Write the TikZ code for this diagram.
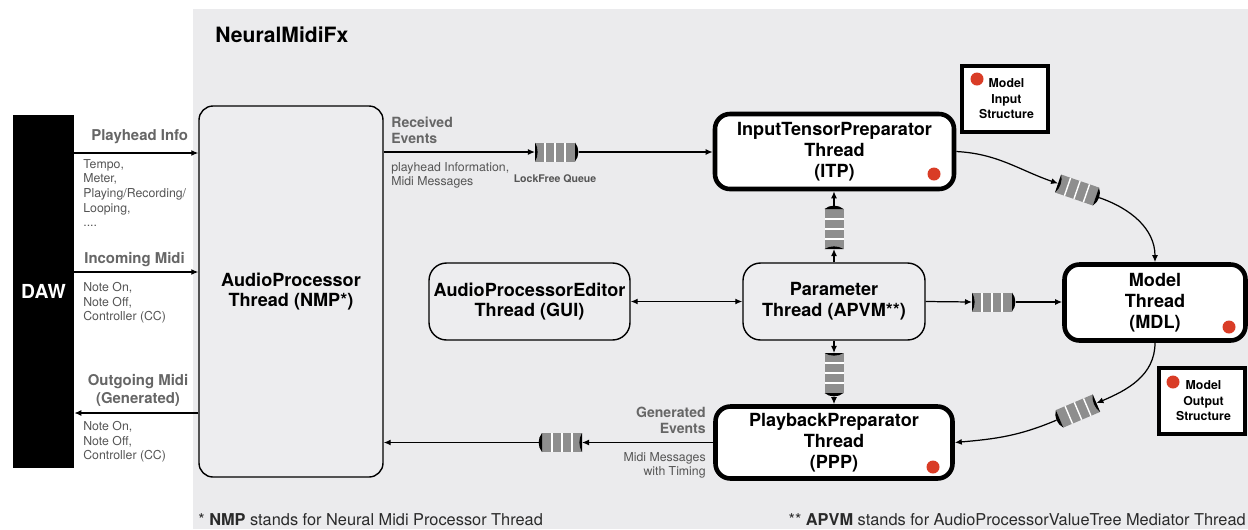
\documentclass[tikz,border=0pt]{standalone}
\usepackage{fontspec}
\setmainfont{TeX Gyre Heros}
\usetikzlibrary{arrows.meta}

% one drawing unit of the picture
\newdimen\pxu \pxu=0.02cm

\definecolor{canvas}{HTML}{EBEBED}
\definecolor{boxfill}{HTML}{EDEDEF}
\definecolor{cellgray}{HTML}{8E8E8E}
\definecolor{dotred}{HTML}{D93C26}
\definecolor{lblgray}{HTML}{666666}
\definecolor{txtgray}{HTML}{555555}
\definecolor{notegray}{HTML}{2A2A2A}

\newcommand\boxfont{\fontsize{10.3}{11.8}\selectfont\bfseries}
\newcommand\titlefont{\fontsize{12}{14}\selectfont\bfseries}
\newcommand\sidefont{\fontsize{8.5}{10.2}\selectfont\bfseries}
\newcommand\evfont{\fontsize{8}{9}\selectfont\bfseries}
\newcommand\smallfont{\fontsize{7}{8.3}\selectfont}
\newcommand\legendfont{\fontsize{7}{8.8}\selectfont\bfseries}
\newcommand\queuefont{\fontsize{6}{7}\selectfont\bfseries}
\newcommand\notefont{\fontsize{9.3}{11}\selectfont}

\begin{document}
\begin{tikzpicture}[x=0.02cm,y=-0.02cm,
  arr/.style={draw=black, line width=0.7pt, -{Latex[length=4pt,width=3.4pt]}},
  arrboth/.style={draw=black, line width=0.7pt, {Latex[length=4pt,width=3.4pt]}-{Latex[length=4pt,width=3.4pt]}},
  thinbox/.style={draw=black, line width=0.8pt, fill=boxfill, rounded corners=10pt, align=center, font=\boxfont, inner sep=0pt},
  thickbox/.style={draw=black, line width=2.6pt, fill=white, rounded corners=8.5pt, align=center, font=\boxfont, inner sep=0pt},
  legendbox/.style={draw=black, line width=2.2pt, fill=white, align=center, font=\legendfont, inner sep=0pt},
  reddot/.style={circle, fill=dotred, minimum size=13\pxu, inner sep=0pt},
  sidelbl/.style={text=lblgray, font=\sidefont, inner sep=0pt},
  evlbl/.style={text=lblgray, font=\evfont, inner sep=0pt},
  smalltxt/.style={text=txtgray, font=\smallfont, inner sep=0pt},
  queue/.pic={
    \fill[cellgray] (-20,-9.5) rectangle (20,9.5);
    \foreach \s in {-10,0,10}{\draw[white,line width=0.8pt] (\s,-9.5) -- (\s,9.5);}
    \fill[black] (-20,-9.5) .. controls (-16.5,-4) and (-16.5,4) .. (-20,9.5) -- cycle;
    \fill[black] (20,-9.5) .. controls (24.5,-4) and (24.5,4) .. (20,9.5) -- cycle;
    \coordinate (-in) at (-20,0);
    \coordinate (-out) at (23.5,0);
  }]

\useasboundingbox (0,0) rectangle (1248,529);
\fill[white] (0,0) rectangle (1248,529);
\fill[canvas] (193,9) rectangle (1248,529);

\node[anchor=base west, font=\titlefont, inner sep=0pt] (title) at (215,42) {NeuralMidiFx};

% host and plugin threads
\node[fill=black, text=white, font=\fontsize{11}{13}\selectfont\bfseries,
      minimum width=61\pxu, minimum height=353\pxu, inner sep=0pt] (daw) at (43.5,291.5) {DAW};
\node[thinbox, rounded corners=8pt, minimum width=184\pxu, minimum height=371\pxu] (ap) at (291,291.5)
  {AudioProcessor\\Thread (NMP*)};
\node[thickbox, minimum width=239\pxu, minimum height=75\pxu] (itp) at (834.5,151.5)
  {InputTensorPreparator\\Thread\\(ITP)};
\node[thickbox, minimum width=181\pxu, minimum height=76\pxu] (mdl) at (1155,302.5)
  {Model\\Thread\\(MDL)};
\node[thickbox, minimum width=237\pxu, minimum height=72\pxu] (ppp) at (834,442.5)
  {PlaybackPreparator\\Thread\\(PPP)};
\node[thinbox, minimum width=201\pxu, minimum height=77\pxu] (ed) at (529.5,301.5)
  {AudioProcessorEditor\\Thread (GUI)};
\node[thinbox, minimum width=182\pxu, minimum height=77\pxu] (par) at (834,301.5)
  {Parameter\\Thread (APVM**)};

% legend boxes
\node[legendbox, minimum width=86\pxu, minimum height=66\pxu] (mis) at (1005,99) {\hspace*{3\pxu}Model\\\hspace*{3\pxu}Input\\\hspace*{3\pxu}Structure};
\node[legendbox, minimum width=86\pxu, minimum height=66\pxu] (mos) at (1202,401) {\hspace*{3\pxu}Model\\\hspace*{3\pxu}Output\\\hspace*{3\pxu}Structure};

% red markers
\node[reddot] (itpdot) at (934,174) {};
\node[reddot] (mdldot) at (1229,327) {};
\node[reddot] (pppdot) at (933,467) {};
\node[reddot] (misdot) at (977,79) {};
\node[reddot] (mosdot) at (1173,382) {};

% lock free queues
\pic (q1) at (555,152) {queue};
\pic[rotate=-19] (qb) at (1077,190) {queue};
\pic (qc) at (992,302) {queue};
\pic[rotate=90] (qup) at (834,229) {queue};
\pic[rotate=-90] (qdn) at (834,373) {queue};
\pic[rotate=203] (qe) at (1078,411) {queue};
\pic[rotate=180] (qf) at (562,442.5) {queue};

% rows of the DAW link
\coordinate (yph) at (0,153);
\coordinate (yin) at (0,272);
\coordinate (yout) at (0,413);

\draw[arr] (daw.east |- yph) -- (ap.west |- yph);
\draw[arr] (daw.east |- yin) -- (ap.west |- yin);
\draw[arr] (ap.west |- yout) -- (daw.east |- yout);

\node[sidelbl, anchor=base west] (lph) at (91,140) {Playhead Info};
\node[smalltxt, anchor=north west, align=left] (tph) at (83,159)
  {Tempo,\\Meter,\\Playing/Recording/\\Looping,\\....};
\node[sidelbl, anchor=base west] (lin) at (84,263) {Incoming Midi};
\node[smalltxt, anchor=north west, align=left] (tin) at (83,282)
  {Note On,\\Note Off,\\Controller (CC)};
\node[sidelbl, anchor=north, align=center] (lout) at (138,374) {Outgoing Midi\\(Generated)};
\node[smalltxt, anchor=north west, align=left] (tout) at (83,421)
  {Note On,\\Note Off,\\Controller (CC)};

% event flow
\draw[arr] (ap.east |- q1-in) -- (q1-in);
\draw[arr] (q1-out) -- (itp.west |- q1-out);
\node[evlbl, anchor=north west, align=left] (lrec) at (391,117) {Received\\Events};
\node[smalltxt, anchor=north west, align=left] (trec) at (391,162)
  {playhead Information,\\Midi Messages};
\node[text=txtgray, font=\queuefont, inner sep=0pt, anchor=base] (lq) at (555,182) {LockFree Queue};

\draw[arr] (itp.east) to[out=-3, in=161] (qb-in);
\draw[arr] (qb-out) to[out=-19, in=90] (mdl.north);

\draw[arrboth] (ed.east) -- (par.west);
\draw[arr] (par.east) -- (qc-in);
\draw[arr] (qc-out) -- (mdl.west |- qc-out);

\draw[arr] (par.north) -- (qup-in);
\draw[arr] (qup-out) -- (itp.south -| qup-out);
\draw[arr] (par.south) -- (qdn-in);
\draw[arr] (qdn-out) -- (ppp.north -| qdn-out);

\draw[arr] (mdl.south) to[out=-90, in=23] (qe-in);
\draw[arr] (qe-out) to[out=203, in=5] (ppp.east);

\draw[arr] (ppp.west) -- (qf-in);
\draw[arr] (qf-out) -- (ap.east |- qf-out);
\node[evlbl, anchor=north east, align=right] (lgen) at (706,407) {Generated\\Events};
\node[smalltxt, anchor=north east, align=right] (tgen) at (706,452)
  {Midi Messages\\with Timing};

% footnotes
\node[text=notegray, font=\notefont, inner sep=0pt, anchor=base west] (n1) at (198,525)
  {* \textbf{NMP} stands for Neural Midi Processor Thread};
\node[text=notegray, font=\notefont, inner sep=0pt, anchor=base east] (n2) at (1246,525)
  {** \textbf{APVM} stands for AudioProcessorValueTree Mediator Thread};
\end{tikzpicture}
\end{document}
